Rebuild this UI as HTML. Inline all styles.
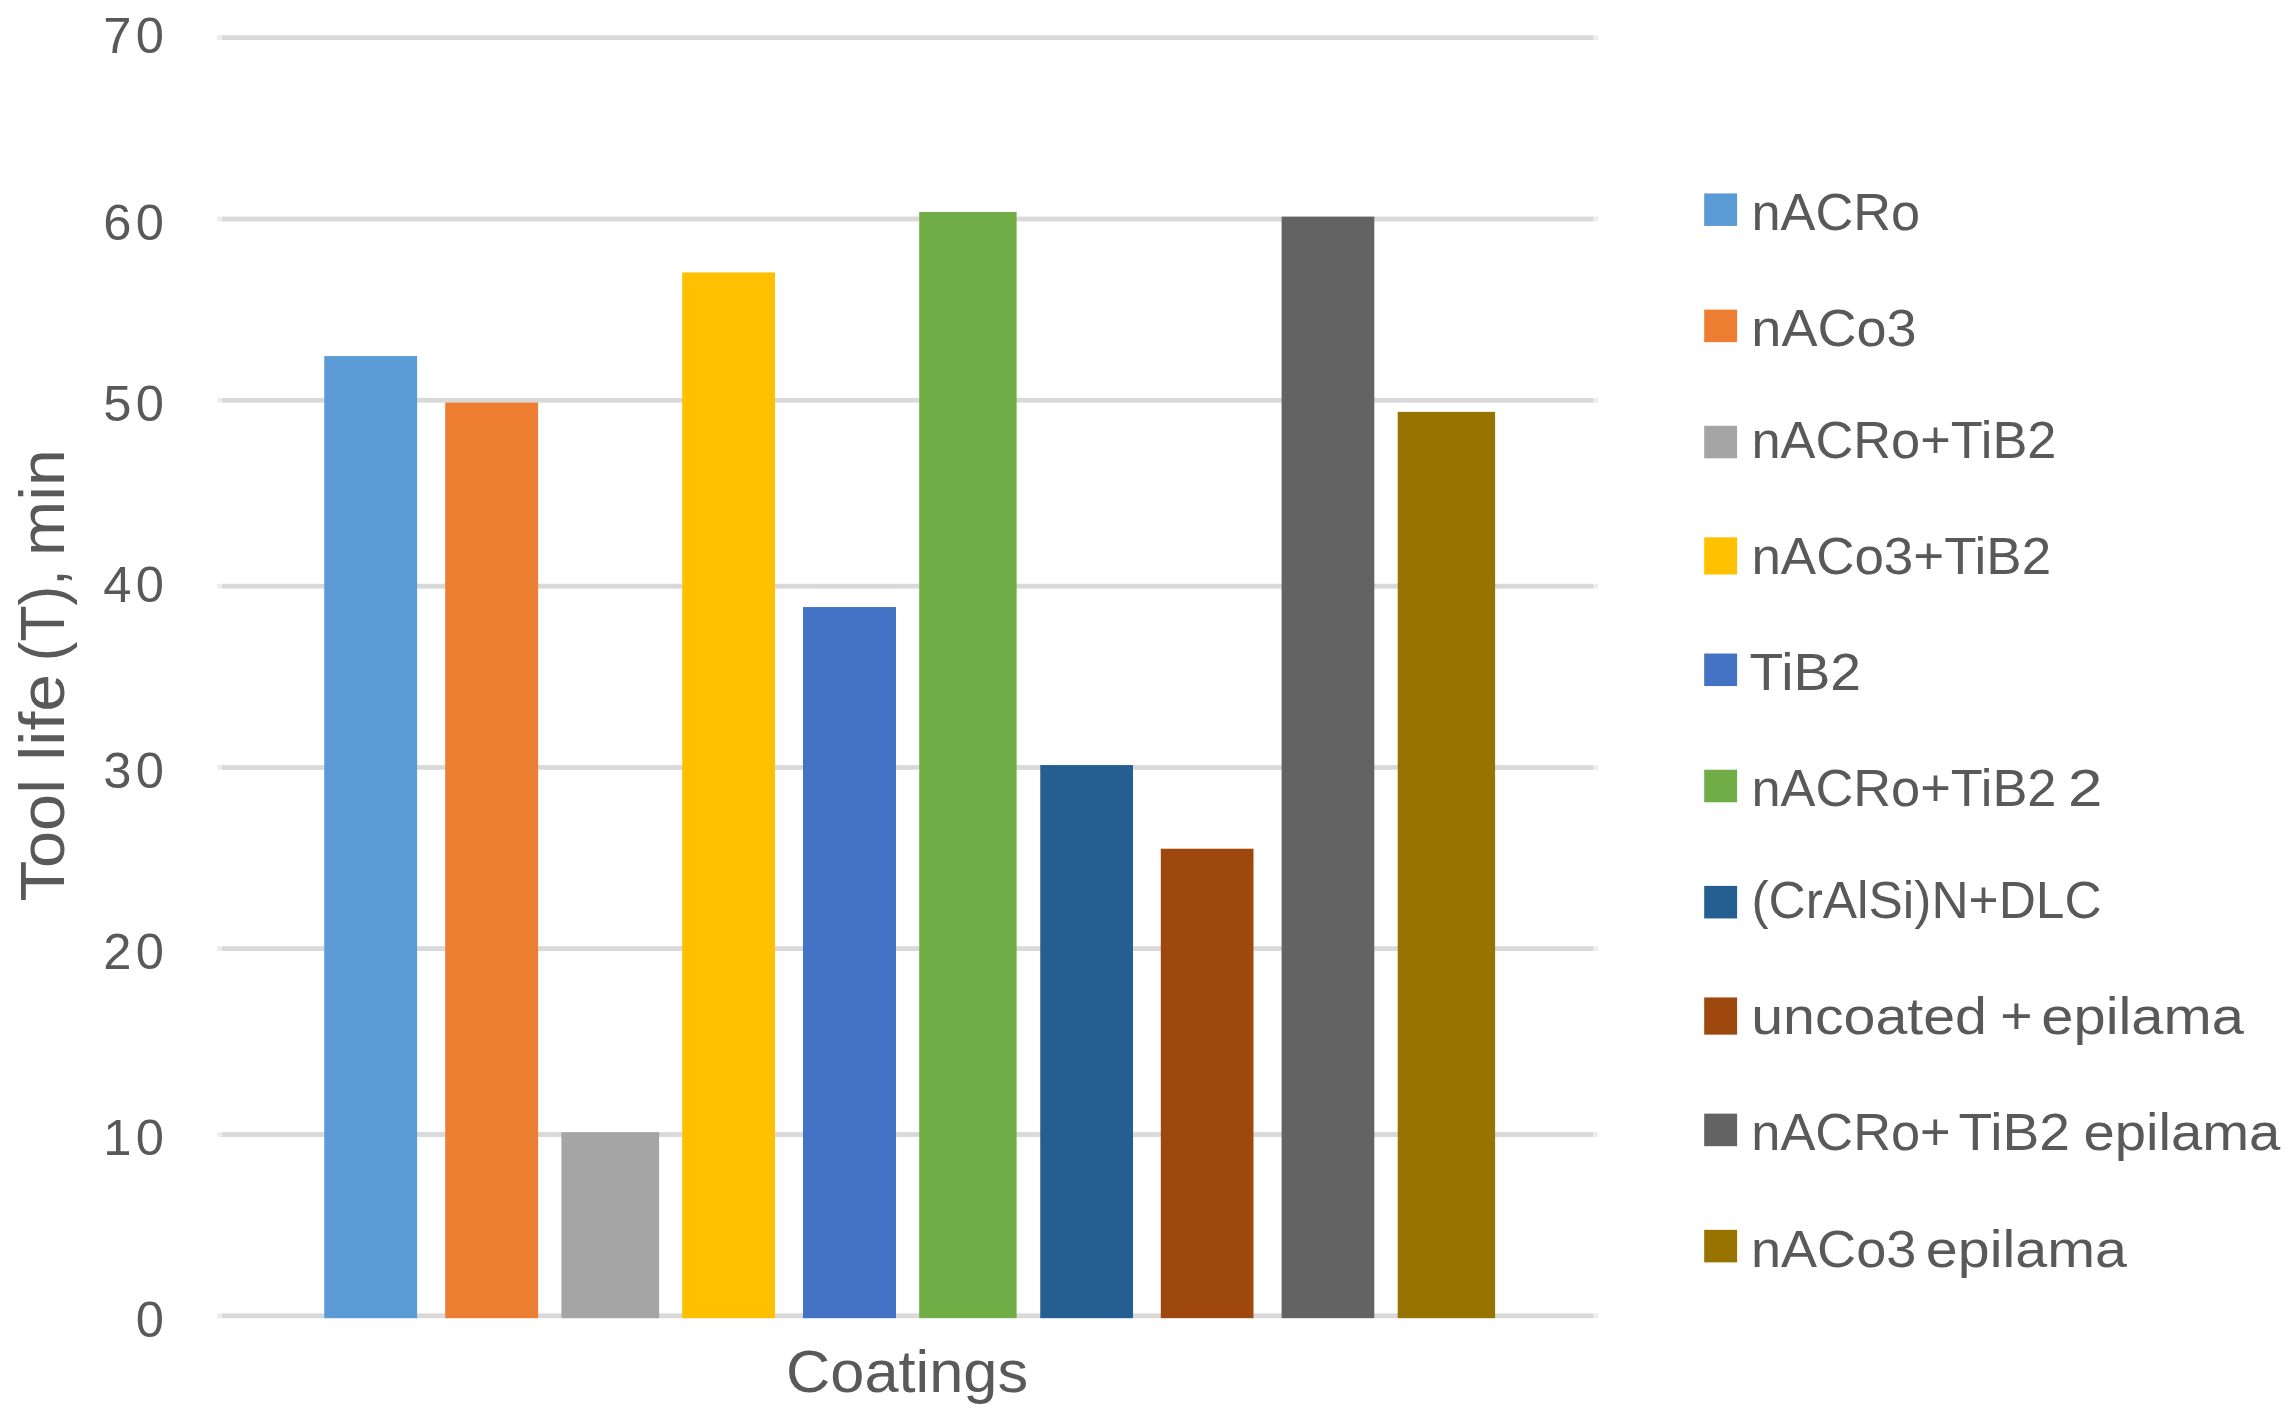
<!DOCTYPE html>
<html lang="en"><head><meta charset="utf-8"><title>Tool life by coating</title>
<style>
html,body{margin:0;padding:0;background:#fff;}
body{width:2290px;height:1417px;overflow:hidden;}
svg{display:block;}
text{font-family:"Liberation Sans",sans-serif;fill:#595959;white-space:pre;}
</style></head><body>
<svg width="2290" height="1417" viewBox="0 0 2290 1417">
<rect width="2290" height="1417" fill="#ffffff"/>
<g>
<rect x="217.3" y="35.4" width="1380.7" height="4.6476" fill="#ECECEC"/>
<rect x="222" y="35.4" width="1371.3" height="4.6476" fill="#D9D9D9"/>
<rect x="217.3" y="216.66" width="1380.7" height="4.6476" fill="#ECECEC"/>
<rect x="222" y="216.66" width="1371.3" height="4.6476" fill="#D9D9D9"/>
<rect x="217.3" y="397.91" width="1380.7" height="4.6476" fill="#ECECEC"/>
<rect x="222" y="397.91" width="1371.3" height="4.6476" fill="#D9D9D9"/>
<rect x="217.3" y="583.82" width="1380.7" height="4.6476" fill="#ECECEC"/>
<rect x="222" y="583.82" width="1371.3" height="4.6476" fill="#D9D9D9"/>
<rect x="217.3" y="765.07" width="1380.7" height="4.6476" fill="#ECECEC"/>
<rect x="222" y="765.07" width="1371.3" height="4.6476" fill="#D9D9D9"/>
<rect x="217.3" y="946.33" width="1380.7" height="4.6476" fill="#ECECEC"/>
<rect x="222" y="946.33" width="1371.3" height="4.6476" fill="#D9D9D9"/>
<rect x="217.3" y="1132.23" width="1380.7" height="4.6476" fill="#ECECEC"/>
<rect x="222" y="1132.23" width="1371.3" height="4.6476" fill="#D9D9D9"/>
<rect x="217.3" y="1313.49" width="1380.7" height="4.6476" fill="#ECECEC"/>
<rect x="222" y="1313.49" width="1371.3" height="4.6476" fill="#D9D9D9"/>
</g>
<g>
<rect x="324.25" y="356.08" width="92.85" height="962.06" fill="#5B9BD5"/>
<rect x="445.2" y="402.56" width="92.9" height="915.58" fill="#ED7D31"/>
<rect x="561.4" y="1132.23" width="97.7" height="185.91" fill="#A5A5A5"/>
<rect x="682.2" y="272.43" width="92.8" height="1045.71" fill="#FFC000"/>
<rect x="803.0" y="607.05" width="93.0" height="711.09" fill="#4472C4"/>
<rect x="919.2" y="212.01" width="97.4" height="1106.13" fill="#70AD47"/>
<rect x="1040.25" y="765.07" width="92.75" height="553.07" fill="#255E91"/>
<rect x="1160.8" y="848.73" width="92.7" height="469.41" fill="#9E480E"/>
<rect x="1281.6" y="216.66" width="92.7" height="1101.48" fill="#636363"/>
<rect x="1397.7" y="411.86" width="97.4" height="906.28" fill="#997300"/>
</g>
<g font-size="50.7" text-anchor="end" letter-spacing="4.3">
<text x="168.3" y="53.4">70</text>
<text x="168.3" y="239.6">60</text>
<text x="168.3" y="420.6">50</text>
<text x="168.3" y="602.2">40</text>
<text x="168.3" y="787.8">30</text>
<text x="168.3" y="969.1">20</text>
<text x="168.3" y="1155.2">10</text>
<text x="168.3" y="1336.5">0</text>
</g>
<g font-size="52">
<rect x="1704.2" y="193.42" width="32.9" height="32.53" fill="#5B9BD5"/>
<text y="230.1"><tspan x="1751.47" textLength="168.69" lengthAdjust="spacingAndGlyphs">nACRo</tspan></text>
<rect x="1704.2" y="309.61" width="32.9" height="32.53" fill="#ED7D31"/>
<text y="346.29"><tspan x="1751.35" textLength="165.26" lengthAdjust="spacingAndGlyphs">nACo3</tspan></text>
<rect x="1704.2" y="425.8" width="32.9" height="32.53" fill="#A5A5A5"/>
<text y="457.83"><tspan x="1751.47" textLength="304.94" lengthAdjust="spacingAndGlyphs">nACRo+TiB2</tspan></text>
<rect x="1704.2" y="537.34" width="32.9" height="37.18" fill="#FFC000"/>
<text y="574.02"><tspan x="1751.43" textLength="299.66" lengthAdjust="spacingAndGlyphs">nACo3+TiB2</tspan></text>
<rect x="1704.2" y="653.53" width="32.9" height="32.53" fill="#4472C4"/>
<text y="690.21"><tspan x="1749.56" textLength="111.49" lengthAdjust="spacingAndGlyphs">TiB2</tspan></text>
<rect x="1704.2" y="769.72" width="32.9" height="32.53" fill="#70AD47"/>
<text y="806.4"><tspan x="1751.47" textLength="304.94" lengthAdjust="spacingAndGlyphs">nACRo+TiB2</tspan> <tspan x="2068.11" textLength="34.35" lengthAdjust="spacingAndGlyphs">2</tspan></text>
<rect x="1704.2" y="885.91" width="32.9" height="32.53" fill="#255E91"/>
<text y="917.94"><tspan x="1751.38" textLength="350.18" lengthAdjust="spacingAndGlyphs">(CrAlSi)N+DLC</tspan></text>
<rect x="1704.2" y="997.45" width="32.9" height="37.18" fill="#9E480E"/>
<text y="1034.13"><tspan x="1751.17" textLength="235.84" lengthAdjust="spacingAndGlyphs">uncoated</tspan> <tspan x="2000.37" textLength="32.34" lengthAdjust="spacingAndGlyphs">+</tspan> <tspan x="2041.34" textLength="202.53" lengthAdjust="spacingAndGlyphs">epilama</tspan></text>
<rect x="1704.2" y="1113.64" width="32.9" height="32.54" fill="#636363"/>
<text y="1150.32"><tspan x="1751.37" textLength="199.26" lengthAdjust="spacingAndGlyphs">nACRo+</tspan> <tspan x="1958.56" textLength="111.39" lengthAdjust="spacingAndGlyphs">TiB2</tspan> <tspan x="2083.51" textLength="196.86" lengthAdjust="spacingAndGlyphs">epilama</tspan></text>
<rect x="1704.2" y="1229.83" width="32.9" height="32.54" fill="#997300"/>
<text y="1266.51"><tspan x="1750.95" textLength="165.36" lengthAdjust="spacingAndGlyphs">nACo3</tspan> <tspan x="1925.76" textLength="201.22" lengthAdjust="spacingAndGlyphs">epilama</tspan></text>
</g>
<text y="1392.4" font-size="59"><tspan x="786.03" textLength="242.08" lengthAdjust="spacingAndGlyphs">Coatings</tspan></text>
<text transform="translate(63.9 900.0) rotate(-90)" font-size="63"><tspan x="-1.4" textLength="122.37" lengthAdjust="spacingAndGlyphs">Tool</tspan> <tspan x="139.21" textLength="86.94" lengthAdjust="spacingAndGlyphs">life</tspan> <tspan x="238.71" textLength="91.9" lengthAdjust="spacingAndGlyphs">(T),</tspan> <tspan x="344.13" textLength="106.59" lengthAdjust="spacingAndGlyphs">min</tspan></text>
</svg>
</body></html>
